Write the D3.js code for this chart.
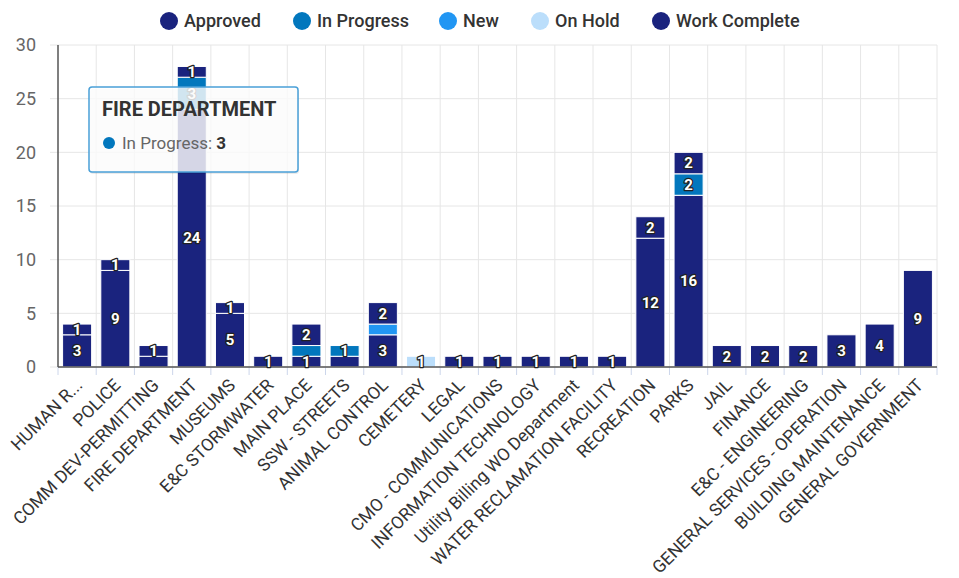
<!DOCTYPE html>
<html>
<head>
<meta charset="utf-8">
<script src="https://cdn.jsdelivr.net/npm/d3@7"></script>
<style>
  html, body { margin: 0; padding: 0; background: #fff; }
  svg { display: block; font-family: Roboto, "Open Sans", sans-serif; }
</style>
</head>
<body>
<svg id="chart" width="959" height="578"></svg>
<script>
// Data
const categories = [
  'HUMAN R...', 'POLICE', 'COMM DEV-PERMITTING', 'FIRE DEPARTMENT', 'MUSEUMS',
  'E&C STORMWATER', 'MAIN PLACE', 'SSW - STREETS', 'ANIMAL CONTROL', 'CEMETERY',
  'LEGAL', 'CMO - COMMUNICATIONS', 'INFORMATION TECHNOLOGY', 'Utility Billing WO Department',
  'WATER RECLAMATION FACILITY', 'RECREATION', 'PARKS', 'JAIL', 'FINANCE',
  'E&C - ENGINEERING', 'GENERAL SERVICES - OPERATION', 'BUILDING MAINTENANCE', 'GENERAL GOVERNMENT'
];
const approved     = [1, 1, 1, 1, 1, 0, 2, 0, 2, 0, 0, 0, 0, 0, 0, 2, 2, 0, 0, 0, 0, 0, 0];
const inProgress   = [0, 0, 0, 3, 0, 0, 1, 1, 0, 0, 0, 0, 0, 0, 0, 0, 2, 0, 0, 0, 0, 0, 0];
const newItems     = [0, 0, 0, 0, 0, 0, 0, 0, 1, 0, 0, 0, 0, 0, 0, 0, 0, 0, 0, 0, 0, 0, 0];
const onHold       = [0, 0, 0, 0, 0, 0, 0, 0, 0, 1, 0, 0, 0, 0, 0, 0, 0, 0, 0, 0, 0, 0, 0];
const workComplete = [3, 9, 1, 24, 5, 1, 1, 1, 3, 0, 1, 1, 1, 1, 1, 12, 16, 2, 2, 2, 3, 4, 9];
const yTicks = [0, 5, 10, 15, 20, 25, 30];

// series in legend order; first series sits on top of the stack
const series = [
  { name: 'Approved',      values: approved,     color: '#1a237e' },
  { name: 'In Progress',   values: inProgress,   color: '#0277bd' },
  { name: 'New',           values: newItems,     color: '#2196f3' },
  { name: 'On Hold',       values: onHold,       color: '#bbdefb' },
  { name: 'Work Complete', values: workComplete, color: '#1a237e' }
];

const margin = { top: 45, right: 22, bottom: 211, left: 58 };
const width = 959, height = 578;
const svg = d3.select('#chart');

const x = d3.scaleBand()
  .domain(categories)
  .range([margin.left, width - margin.right])
  .paddingInner(0.24)
  .paddingOuter(0.12);

const y = d3.scaleLinear()
  .domain([0, 30])
  .range([height - margin.bottom, margin.top]);

// stack: bottom first -> reverse of legend order
const rows = categories.map((c, i) => {
  const r = { cat: c };
  series.forEach(s => r[s.name] = s.values[i]);
  return r;
});
const stackOrder = series.map(s => s.name).reverse();
const stacked = d3.stack().keys(stackOrder)(rows);

// Gridlines
const x0 = margin.left;
const colW = (width - margin.right - x0) / categories.length;
const grid = svg.append('g').attr('class', 'grid');
grid.selectAll('line.h')
  .data(yTicks)
  .join('line')
  .attr('x1', margin.left - 8).attr('x2', width - margin.right)
  .attr('y1', d => y(d)).attr('y2', d => y(d))
  .attr('stroke', '#e6e6e6');
grid.selectAll('line.v')
  .data(d3.range(1, categories.length + 1))
  .join('line')
  .attr('x1', d => x0 + d * colW)
  .attr('x2', d => x0 + d * colW)
  .attr('y1', margin.top).attr('y2', y(0))
  .attr('stroke', '#e6e6e6');
// tick marks under the x axis
grid.selectAll('line.t')
  .data(d3.range(0, categories.length + 1))
  .join('line')
  .attr('x1', d => x0 + d * colW)
  .attr('x2', d => x0 + d * colW)
  .attr('y1', y(0)).attr('y2', y(0) + 8)
  .attr('stroke', '#ccd6eb');

// Y axis labels
svg.append('g')
  .selectAll('text')
  .data(yTicks)
  .join('text')
  .attr('x', 36)
  .attr('y', d => y(d))
  .attr('dy', '0.35em')
  .attr('text-anchor', 'end')
  .attr('font-size', 18)
  .attr('fill', '#666')
  .text(d => d);

// Bars
const barG = svg.append('g');
stacked.forEach(layer => {
  const s = series.find(d => d.name === layer.key);
  barG.append('g')
    .selectAll('rect')
    .data(layer.filter(d => d[1] - d[0] > 0))
    .join('rect')
    .attr('x', d => x(d.data.cat))
    .attr('width', x.bandwidth())
    .attr('y', d => y(d[1]))
    .attr('height', d => y(d[0]) - y(d[1]))
    .attr('fill', s.color)
    .attr('stroke', '#fff')
    .attr('stroke-width', 1);
});

// Axis lines
svg.append('line')
  .attr('x1', margin.left).attr('x2', margin.left)
  .attr('y1', margin.top).attr('y2', y(0))
  .attr('stroke', '#555').attr('stroke-width', 1.5);
svg.append('line')
  .attr('x1', margin.left).attr('x2', width - margin.right)
  .attr('y1', y(0)).attr('y2', y(0))
  .attr('stroke', '#555').attr('stroke-width', 1.5);

// X labels
svg.append('g')
  .selectAll('text')
  .data(categories)
  .join('text')
  .attr('transform', d => `translate(${x(d) + x.bandwidth() / 2 + 2},${y(0) + 15}) rotate(-45)`)
  .attr('text-anchor', 'end')
  .attr('dy', '0.35em')
  .attr('font-size', 17.5)
  .attr('fill', '#333')
  .text(d => d);

// Data labels, placed in series order, hiding ones that collide
const labelG = svg.append('g');
const shown = categories.map(() => []);
series.forEach(s => {
  const layer = stacked.find(l => l.key === s.name);
  layer.forEach((d, i) => {
    const v = d[1] - d[0];
    if (v <= 0) return;
    const cy = y((d[0] + d[1]) / 2);
    if (shown[i].some(p => Math.abs(p - cy) < 18)) return;
    shown[i].push(cy);
    labelG.append('text')
      .attr('x', x(categories[i]) + x.bandwidth() / 2)
      .attr('y', cy)
      .attr('dy', '0.35em')
      .attr('text-anchor', 'middle')
      .attr('font-size', 15)
      .attr('font-weight', 'bold')
      .attr('fill', '#fff')
      .attr('stroke', '#222')
      .attr('stroke-width', 2.5)
      .attr('stroke-linejoin', 'round')
      .attr('paint-order', 'stroke')
      .text(v);
  });
});

// Legend
const legendX = [169, 302, 448, 540, 661];
const legend = svg.append('g')
  .selectAll('g')
  .data(series)
  .join('g')
  .attr('transform', (d, i) => `translate(${legendX[i]},21)`);
legend.append('circle').attr('r', 9).attr('fill', d => d.color);
legend.append('text')
  .attr('x', 15).attr('dy', '0.35em')
  .attr('font-size', 18)
  .attr('font-weight', 500)
  .attr('fill', '#333')
  .text(d => d.name);

// Tooltip
const tip = svg.append('g').attr('transform', 'translate(89,87)');
tip.append('rect')
  .attr('x', 1).attr('y', 2).attr('width', 209).attr('height', 85).attr('rx', 3)
  .attr('fill', 'rgba(0,0,0,0.08)');
tip.append('rect')
  .attr('width', 209).attr('height', 85).attr('rx', 3)
  .attr('fill', 'rgba(255,255,255,0.82)')
  .attr('stroke', '#4aa0d8').attr('stroke-width', 1.5);
tip.append('text')
  .attr('x', 13).attr('y', 29)
  .attr('font-size', 20).attr('font-weight', 'bold').attr('fill', '#333')
  .text('FIRE DEPARTMENT');
tip.append('circle').attr('cx', 20).attr('cy', 56).attr('r', 6).attr('fill', '#0277bd');
const t2 = tip.append('text').attr('x', 33).attr('y', 62).attr('font-size', 17).attr('fill', '#666');
t2.append('tspan').text('In Progress: ');
t2.append('tspan').attr('font-weight', 'bold').attr('fill', '#333').text('3');
</script>
</body>
</html>
